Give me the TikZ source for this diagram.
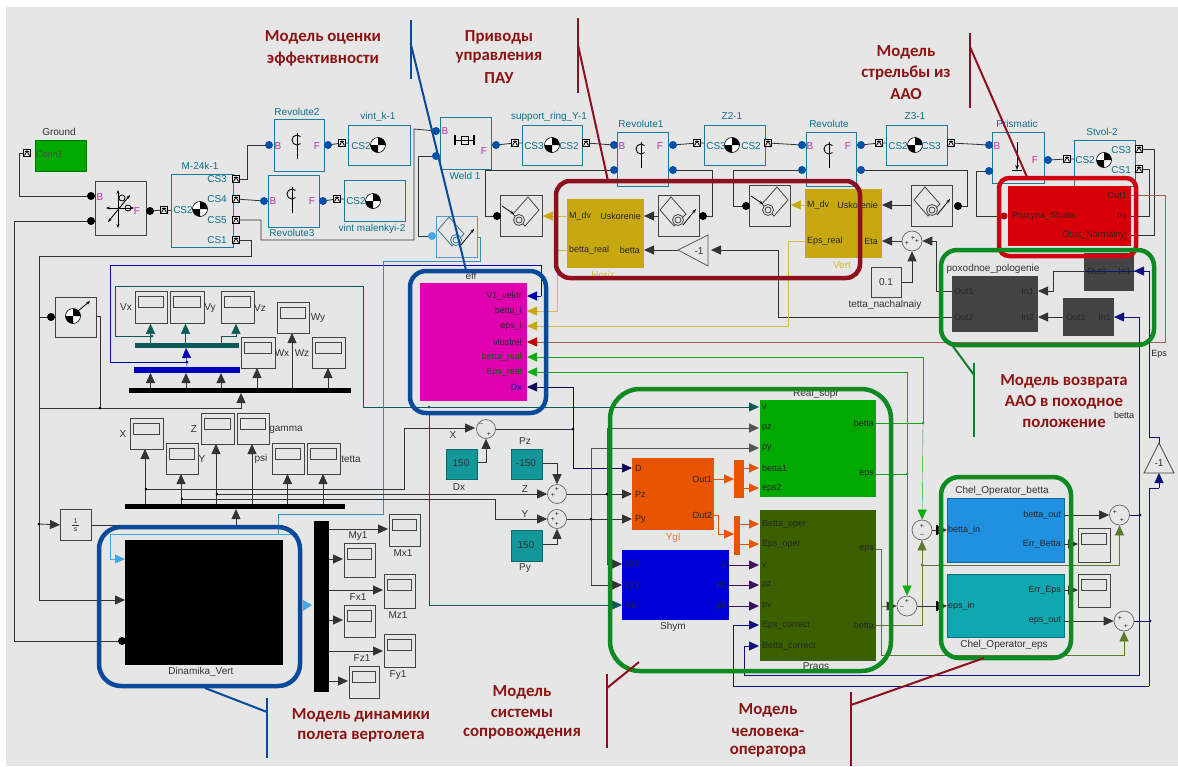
\documentclass[tikz,border=0pt]{standalone}
\usepackage{fontspec}
\setmainfont{Liberation Sans}
\newfontfamily\ttl{Carlito}
\usetikzlibrary{arrows.meta,calc}
\definecolor{bg}{HTML}{E6E6E6}
\definecolor{wire}{HTML}{333333}
\definecolor{wgray}{HTML}{555555}
\definecolor{tealt}{HTML}{0F6F8C}
\definecolor{tealb}{HTML}{1A7C9C}
\definecolor{mag}{HTML}{C030A0}
\definecolor{pdot}{HTML}{0050A8}
\definecolor{ltblue}{HTML}{45A5E5}
\definecolor{ylw}{HTML}{D0BC50}
\definecolor{gold}{HTML}{C8A810}
\definecolor{grn}{HTML}{10AA10}
\definecolor{olv}{HTML}{5C7A30}
\definecolor{navy1}{HTML}{101080}
\definecolor{dkteal}{HTML}{0C5A58}
\definecolor{brn}{HTML}{A06058}
\definecolor{frR}{HTML}{8E0F1E}
\definecolor{frG}{HTML}{0E8A22}
\definecolor{frB}{HTML}{0A4A9C}
\definecolor{frRR}{HTML}{D00010}
\definecolor{ttlc}{HTML}{8C1414}
\definecolor{dkgr}{HTML}{444444}
\definecolor{orng}{HTML}{E85400}
\definecolor{cteal}{HTML}{12979A}
\definecolor{cgrn}{HTML}{00A800}
\definecolor{cprg}{HTML}{3A6000}
\definecolor{cbet}{HTML}{2090E0}
\definecolor{ceps}{HTML}{10A8B0}
\definecolor{cmag}{HTML}{E000B0}
\definecolor{cred}{HTML}{D80008}
\definecolor{cblu}{HTML}{0000D8}
\definecolor{pur}{HTML}{401060}
\tikzset{
 plainb/.style={draw=dkgr,line width=.8pt,fill=bg},
 tealbk/.style={draw=tealb,line width=.8pt,fill=bg},
 lblue/.style={draw=ltblue!70!gray,line width=.8pt,fill=bg},
 solid1/.style={fill=#1,draw=none},
 solid2/.style={fill=#1,draw=#1!70!black,line width=.5pt},
 w/.style={draw=wire,line width=.8pt},
 ar/.style={-{Triangle[length=10pt,width=9pt]}},
 lbl/.style={font=\fontsize{10}{11}\selectfont,inner sep=0pt,text=#1},
 lbl/.default=black!80,
 prt/.style={font=\fontsize{9}{10}\selectfont,inner sep=0pt,text=#1},
 prt/.default=black!85,
 ttlt/.style={font=\ttl\bfseries\fontsize{16.8}{18}\selectfont,text=ttlc,inner sep=0pt},
 fr/.style={line width=4.5pt,draw=#1},
 note/.style={line width=2pt,draw=#1},
}
\newcounter{lc}
\newcommand{\blk}[6]{\pgfmathsetmacro\bw{#4-#2}\pgfmathsetmacro\bh{#5-#3}%
 \node[#6,minimum width=\bw pt,minimum height=\bh pt,anchor=north west,inner sep=0pt] (#1) at (#2,#3) {};}
\newcommand{\scp}[5]{\blk{#1}{#2}{#3}{#4}{#5}{plainb}%
 \draw[line width=.8pt,draw=dkgr] (#2+3.5,#3+5) rectangle (#4-3.5,#3+16);}
\newcommand{\lab}[4][lbl]{\stepcounter{lc}\node[#1] (t\thelc) at (#2,#3) {#4};}
\newcommand{\cg}[2]{\draw[black,line width=.6pt,fill=white] (#1,#2) circle[radius=7.5];
 \fill[black] (#1,#2) -- (#1,#2-7.5) arc[start angle=-90,end angle=0,radius=7.5] -- cycle;
 \fill[black] (#1,#2) -- (#1,#2+7.5) arc[start angle=90,end angle=180,radius=7.5] -- cycle;}
\newcommand{\conn}[2]{\draw[black,line width=.7pt,fill=bg] (#1-3.5,#2-3.5) rectangle (#1+3.5,#2+3.5);
 \draw[black,line width=.8pt] (#1-2.5,#2+2.5) -- (#1,#2-2) -- (#1+2.5,#2+2.5) (#1-2,#2-1.5) -- (#1+2,#2-1.5);}
\newcommand{\pd}[2]{\fill[pdot] (#1,#2) circle[radius=4];}
\newcommand{\bd}[2]{\fill[black] (#1,#2) circle[radius=4];}
\newcommand{\rv}[2]{\draw[black,line width=.9pt] (#1,#2) -- (#1,#2+26);
 \draw[black,line width=.9pt] (#1+3.5,#2+3.5) arc[start angle=-45,end angle=-315,radius=5];}
\newcommand{\mB}[3][dkgr]{\draw[#1,line width=.8pt] (#2-18,#3-6) -- (#2-7,#3-19) -- (#2+8,#3-2) -- (#2-4,#3+10) -- cycle;
 \draw[#1,line width=.8pt,fill=bg] (#2,#3+4) circle[radius=5.5]; \draw[#1,line width=.8pt] (#2,#3+4) circle[radius=3];
 \draw[black,line width=.8pt,-{Stealth[length=4pt]}] (#2+5,#3+9) -- (#2+18,#3-7);}
\newcommand{\mA}[2]{\draw[dkgr,line width=.8pt] (#1+18,#2-6) -- (#1+7,#2-19) -- (#1-8,#2-2) -- (#1+4,#2+10) -- cycle;
 \draw[dkgr,line width=.8pt,fill=bg] (#1-2,#2+4) circle[radius=5.5]; \draw[dkgr,line width=.8pt] (#1-2,#2+4) circle[radius=3];
 \draw[black,line width=.8pt,-{Stealth[length=4pt]}] (#1-19,#2-10) -- (#1-7,#2-2);}
\newcommand{\sm}[4]{\node[draw=gray!80!black,fill=bg,circle,minimum size=#4*2pt,inner sep=0pt,line width=.7pt] (#1) at (#2,#3) {};}
\begin{document}
\begin{tikzpicture}[x=1pt,y=-1pt]
\useasboundingbox (0,0) rectangle (1178,766);
\fill[white] (0,0) rectangle (1178,766);
\fill[bg] (6,7) rectangle (1178,766);
% ---- named ports
\foreach \n/\x/\y in {gC/27/153,jB/91/196,jL/91/221,jF/150/211,jC/164/210,cs3/236/179,cs4/236/199,cs5/236/220,cs1/236/240,
 r2B/269/145,r2F/328/145,r2C/342/143,r3B/264/201,r3F/323/201,r3C/337/199,wB/436/131,wL/436/156,wF/496/145,wC/515/143,srC/586/143,
 r1B/614/145,r1L/614/170,r1F/673/145,r1R/673/170,z2C/697/143,z2D/768/143,rvB/802/145,rvL/802/170,rvF/861/145,rvR/861/170,rvC/879/143,
 z3D/951/143,prB/989/145,prL/989/171,prF/1048/160,prC/1067/159,stA/1139/149,stB/1139/169,
 sD/51/317,sO/96/316,lsD/432/236,m1D/497/216,m2D/703/216,m3D/746/206,m4D/958/206,
 sxIn/475/428,
 effV/527/296,effB/527/311,effE/527/326,effU/527/342,effBr/527/357,effEr/527/372,effD/527/387,
 rsV/759/407,rsPz/759/428,rsPy/759/448,rsB1/759/468,rsE2/759/488,rsB/876/423,rsE/876/474,
 prBo/759/524,prEo/759/544,prv/759/565,prpz/759/585,prpv/759/606,prEc/759/625,prBc/759/646,prE/876/549,prBt/876/625,
 yD/632/468,yP/632/494,yY/632/519,yO1/714/479,yO2/714/515,
 shA/622/564,shB/622/585,shC/622/605,shR1/729/565,shR2/729/585,shR3/729/606,
 cbI/947/530,cbO/1064/515,cbE/1064/544,ceI/947/606,ceO/1064/621,ceE/1064/590,
 hM/567/216,hU/644/216,hBr/567/250,hB/644/250,vM/805/205,vU/882/205,vEr/805/241,vEt/882/241,
 pIn1/1038/291,pIn2/1038/317,pO1/952/291,pO2/952/317,s1I/1134/271,s1O/1084/271,s2I/1114/317,s2O/1063/317,
 rdO/1131/195,rdP/1131/216,rdN/1131/235,rdL/1006/216,
 g1R/711/250,g1L/678/250,g2T/1159/443,g2B/1159/473,
 bkT/125/559,bkM/125/600,bkD/122/641,
 mxO/329/529}{\coordinate (\n) at (\x,\y);}
% ---- blocks
\blk{ground}{35}{140}{86}{171}{solid2=cgrn}
\blk{joint}{95}{181}{146}{235}{plainb}
\blk{m24}{171}{174}{233}{247}{tealbk}
\blk{rev2}{274}{119}{324}{171}{tealbk}
\blk{vintk}{348}{125}{410}{165}{tealbk}
\blk{rev3}{268}{175}{319}{227}{tealbk}
\blk{vintm}{344}{180}{405}{221}{tealbk}
\blk{weld}{440}{117}{491}{169}{tealbk}
\blk{sring}{522}{125}{582}{165}{tealbk}
\blk{rev1}{617}{132}{668}{186}{tealbk}
\blk{z2}{704}{125}{765}{165}{tealbk}
\blk{revv}{806}{132}{856}{186}{tealbk}
\blk{z3}{886}{125}{947}{165}{tealbk}
\blk{prism}{992}{132}{1044}{183}{tealbk}
\blk{stvol}{1074}{140}{1135}{186}{tealbk}
\blk{sens}{55}{297}{96}{337}{plainb}
\blk{lsens}{436}{216}{477}{257}{lblue}
\blk{mot1}{500}{195}{542}{236}{plainb}
\blk{mot2}{658}{195}{699}{236}{plainb}
\blk{mot3}{749}{185}{790}{226}{plainb}
\blk{mot4}{911}{185}{952}{226}{plainb}
\blk{horiz}{567}{199}{644}{268}{solid1=gold}
\blk{vert}{805}{189}{882}{258}{solid1=gold}
\blk{c01}{871}{267}{901}{297}{plainb}
\blk{redb}{1008}{186}{1131}{246}{solid1=cred}
\blk{poh}{952}{276}{1038}{332}{solid1=dkgr}
\blk{sm1}{1084}{253}{1134}{291}{solid1=dkgr}
\blk{sm2}{1063}{298}{1114}{336}{solid1=dkgr}
\blk{eff}{420}{283}{527}{401}{solid1=cmag}
\blk{real}{760}{400}{876}{497}{solid1=cgrn}
\blk{prags}{760}{510}{876}{661}{solid1=cprg}
\blk{ygl}{632}{458}{714}{530}{solid1=orng}
\blk{shym}{622}{550}{729}{620}{solid1=cblu}
\blk{mx1}{734}{460}{744}{498}{solid1=orng}
\blk{mx2}{734}{516}{740}{555}{solid1=orng}
\blk{chb}{947}{498}{1064}{562}{solid2=cbet}
\blk{che}{947}{574}{1064}{637}{solid2=ceps}
\blk{dx}{446}{449}{477}{479}{solid2=cteal}
\blk{pz}{511}{449}{542}{479}{solid2=cteal}
\blk{py}{511}{530}{542}{561}{solid2=cteal}
\blk{integ}{60}{509}{91}{540}{plainb}
\blk{dyn}{125}{540}{283}{665}{solid1=black}
\blk{mux}{314}{521}{329}{692}{solid1=black}
\blk{bus1}{129}{388}{351}{393}{solid1=black}
\blk{bus2}{125}{504}{345}{509}{solid1=black}
\blk{busb}{134}{367}{240}{373}{solid1=blue!75!black}
\blk{bust}{135}{343}{239}{348}{solid1=dkteal}
\scp{svx}{135}{291}{167}{323}\scp{svy}{170}{291}{204}{323}\scp{svz}{221}{291}{254}{323}
\scp{swy}{277}{302}{309}{333}\scp{swx}{241}{337}{275}{368}\scp{swz}{312}{337}{345}{368}
\scp{sx}{130}{418}{163}{449}\scp{sy}{166}{443}{198}{474}\scp{sz}{201}{413}{234}{444}\scp{sg}{237}{413}{269}{444}
\scp{sp}{272}{443}{304}{474}\scp{st}{307}{443}{340}{474}
\scp{smx}{389}{514}{420}{546}\scp{smy}{344}{543}{375}{577}\scp{smz}{384}{574}{415}{608}\scp{sfx}{344}{605}{375}{637}
\scp{sfy}{384}{634}{415}{667}\scp{sfz}{349}{666}{379}{698}
\scp{sc1}{1078}{528}{1110}{562}\scp{sc2}{1078}{574}{1110}{607}
% summers
\sm{sX}{486}{429}{9.5}\sm{sZ}{557}{494}{9.5}\sm{sY}{557}{519}{9.5}
\sm{sV}{912}{241}{10}\sm{sB}{922}{530}{10}\sm{sE}{907}{606}{10}\sm{sO1}{1119.5}{515}{10}\sm{sO2}{1124}{621}{10}
% ---- wires
\draw[w] (gC) -- (19,153) |- (jB);
\draw[w] (jF) -- (jC);
\draw[w] (jC) -- (m24.west|-jC);
\draw[w] (cs3) -| (247,145) -- (r2B);
\draw[w] (cs4) -- (r3B);
\draw[w] (cs5) -| (261,240) -| (414,129) -- (wB);
\draw[w] (cs1) -| (251,256) -| (39,317) -- (sD);
\draw[w] (r2F) -- (r2C) -- (vintk.west|-r2C);
\draw[w] (r3F) -- (r3C) -- (vintm.west|-r3C);
\draw[w] (wF) -- (wC) -- (sring.west|-wC);
\draw[w] (srC) -- (r1B);
\draw[w] (r1F) -- (z2C) -- (z2.west|-z2C);
\draw[w] (z2D) -- (rvB);
\draw[w] (rvF) -- (rvC) -- (z3.west|-rvC);
\draw[w] (z3D) -- (prB);
\draw[w] (prF) -- (prC) -- (stvol.west|-prC);
\draw[w] (lsD) -| (418,156) -- (wL);
\draw[w] (jL) -| (14,641) -- (bkD);
\draw[w] (sO) -| (100,408);
\draw[w] (39,317) -- (39,600);
\draw[w,ar] (39,408) -| (241,393);
\fill[black] (100,408) circle[radius=1.5];
\fill[black] (39,524) circle[radius=1.5];
\draw[w,ar] (39,600) -- (bkM);
\draw[w,ar] (39,524) -- (integ.west);
\draw[w,ar] (integ.east) -| (236,509);
\draw[w] (m1D) -| (485,170) -- (r1L);
\draw[w] (m2D) -| (712,170) -- (r1R);
\draw[w] (m3D) -| (733,170) -- (rvL);
\draw[w] (m4D) -| (967,170) -- (rvR);
\draw[w,ar] (mot2.west|-hU) -- (hU);
\draw[w,ar] (mot4.west|-vU) -- (vU);
\draw[w,ar] (g1L) -- (hB);
\draw[w,ar] (sV) -- (vEt);
\draw[w,ar] (pO1) -| (936,241) -- (sV);
\draw[w,ar] (pO2) -| (778,250) -- (g1R);
\draw[w,ar] (c01.east) -| (sV);
\draw[w,ar] (s1O) -| (1053,291) -- (pIn1);
\draw[w,ar] (s2O) -- (pIn2);
\draw[w] (stA) -| (1154,235) -- (rdN);
\draw[w] (stB) -| (1149,216) -- (rdP);
\draw[w] (prL) -| (976,216) -- (rdL);
\draw[brn,line width=1pt] (rdO) -| (1165,342) -- (538,342);
\draw[red!75!black,{Triangle[length=10pt,width=9pt]}-] (effU) -- ++(11,0);
\draw[ylw,line width=.9pt] (hM) -- (552,216);
\draw[gold,ar] (552,216) -- (mot1.east|-hU);
\draw[ylw,line width=.9pt] (vM) -- (799,205);
\draw[gold,ar] (799,205) -- (mot3.east|-vU);
\draw[ylw,line width=.9pt] (hBr) -| (557,311) -- (538,311);
\draw[gold,ar] (538,311) -- (effB);
\draw[ylw,line width=.9pt] (vEr) -| (788,326) -- (538,326);
\draw[gold,ar] (538,326) -- (effE);
\draw[blue!70!black,line width=.9pt] (187,362) -| (110,265) -| (541,296);
\draw[blue!70!black,ar] (541,296) -- (effV);
\draw[blue!70!black,ar] (187,367) -- (186,348);
\fill[blue!70!black] (187,362) circle[radius=1.5];
\draw[dkteal,line width=.8pt] (610,407) -- (363.5,407) |- (115.5,286) |- (152,336);
\fill[dkteal] (152,336) circle[radius=1.5];
\draw[dkteal,ar] (150.5,343) -- (svx.south-|150.5,0);
\draw[dkteal,ar] (185.5,343) -- (svy.south-|185.5,0);
\draw[dkteal,ar] (221,343) |- (236,336) -- (svz.south-|236,0);
\draw[dkteal,ar] (610,407) -- (rsV);
\draw[dkteal,line width=.9pt] (429,413) |- (610,605);
\fill[dkteal] (429,407) circle[radius=1.5];
\draw[dkteal,ar] (610,605) -- (shC);
\draw[ltblue,line width=.8pt] (297,546) |- (110,534) |- (115,559);
\draw[ltblue,ar] (115,559) -- (bkT);
\draw[ltblue!70!dkteal,line width=.8pt] (278,534) |- (383,514) |- (480.5,261) |- (lsens.east);
\fill[ltblue] (303,600) -- (312,605) -- (303,611) -- cycle;
\foreach \xx in {150.5,186,221}{\draw[w,ar] (\xx,388) -- (\xx,373);}
\draw[w,ar] (257,388) -- (257,368);
\draw[w,ar] (292,388) -- (292,333);
\draw[w,ar] (328,388) -- (328,368);
\draw[w,ar] (145,504) -- (145,449);
\draw[w,ar] (181,504) -- (181,474);
\draw[w,ar] (216,504) -- (216,444);
\draw[w,ar] (252,504) -- (252,444);
\draw[w,ar] (287.5,504) -- (287.5,474);
\draw[w,ar] (323,504) -- (323,474);
\draw[w,ar] (146,489) -| (404.5,428) -- (sxIn);
\fill[black] (146,489) circle[radius=1.5];
\draw[w,ar] (217,494) -- (sZ);
\fill[black] (217,494) circle[radius=1.5];
\draw[w,ar] (182,499) -| (495,519) -- (sY);
\fill[black] (182,499) circle[radius=1.5];
\draw[w,ar] (dx.east|-0,462) -| (sX);
\draw[w,ar] (pz.east|-0,463) -| (sZ);
\draw[w,ar] (py.east|-0,544) -| (sY);
\foreach \yy/\xe in {529/388,559/343,590/383,620/343,651/383,681/348}{\draw[w,ar] (329,\yy) -- (\xe,\yy);}
% sum outputs
\draw[w] (sX) -- (573,429);
\draw[navy1!70!black,ar] (573,429) |- (effD);
\draw[navy1!70!black,ar] (573,429) |- (yD);
\fill[black] (573,429) circle[radius=1.5];
\draw[w,ar] (sZ) -- (yP);
\draw[wgray,line width=.9pt,ar] (607,494) |- (rsPz);
\draw[wgray,line width=.9pt] (607,494) -- (607,564);
\draw[w,ar] (607,564) -- (shA);
\fill[black] (607,494) circle[radius=1.5];
\draw[w,ar] (sY) -- (yY);
\draw[wgray,line width=.9pt,ar] (591,519) |- (rsPy);
\draw[wgray,line width=.9pt] (591,519) -- (591,585);
\draw[w,ar] (591,585) -- (shB);
\fill[black] (591,519) circle[radius=1.5];
\draw[orng,line width=.9pt,ar] (yO1) -- (mx1.west|-yO1);
\draw[orng,line width=.9pt,ar] (yO2) -| (718.5,534) -- (mx2.west|-0,534);
\draw[orng,ar] (mx1.east|-rsB1) -- (rsB1);
\draw[orng,ar] (mx1.east|-rsE2) -- (rsE2);
\draw[orng,ar] (mx2.east|-prBo) -- (prBo);
\draw[orng,ar] (mx2.east|-prEo) -- (prEo);
\draw[pur,ar] (shR1) -- (prv);
\draw[pur,ar] (shR2) -- (prpz);
\draw[pur,ar] (shR3) -- (prpv);
\draw[grn,line width=.9pt] (rsB) -| (923,357) -- (538,357);
\draw[grn,ar] (538,357) -- (effBr);
\draw[grn,ar] (923,423) -- (sB);
\fill[grn] (923,423) circle[radius=1.5];
\draw[grn,line width=.9pt] (rsE) -| (907,372) -- (538,372);
\draw[grn,ar] (538,372) -- (effEr);
\draw[grn,ar] (907,474) -- (sE);
\fill[grn] (907,474) circle[radius=1.5];
\draw[olv,line width=.8pt] (prE) -| (881,655) -| (1124,641);
\draw[olv,ar] (1124,641) -- (sO2);
\draw[olv,line width=.8pt] (881,606) -- (887,606);
\draw[w,ar] (887,606) -- (sE);
\draw[olv,ar] (prBt) -| (sB);
\draw[olv,ar] (922,565) -| (sO1);
\fill[olv] (922,565) circle[radius=1.5];
\draw[w,ar] (sB) -- (cbI);
\draw[w,ar] (sE) -- (ceI);
\draw[w,ar] (cbO) -- (sO1);
\draw[w,ar] (ceO) -- (sO2);
\draw[w,ar] (cbE) -- (sc1.west|-cbE);
\draw[w,ar] (ceE) -- (sc2.west|-ceE);
\draw[navy1,line width=.8pt] (sO1) -| (1140,515);
\draw[navy1,line width=.8pt] (sO2) -| (1150,621);
\draw[navy1,line width=.8pt] (1085,271) -- (1149,271) |- (1159,437) -- (g2T);
\draw[navy1,ar] (1149,271) -- (s1I);
\draw[navy1,line width=.8pt] (1139,317) |- (744,675) |- (750,646);
\draw[navy1,ar] (1139,317) -- (s2I);
\draw[navy1,ar] (750,646) -- (prBc);
\draw[navy1,line width=.8pt] (1149,686) |- (1159,488);
\draw[navy1,ar] (1159,488) -- (g2B);
\draw[navy1,line width=.8pt] (1149,686) -| (733.5,625) -- (750,625);
\draw[navy1,ar] (750,625) -- (prEc);
\fill[navy1] (1140,515) circle[radius=1.5];\fill[navy1] (1150,621) circle[radius=1.5];
% gains
\draw[gray!70!black,line width=.8pt,fill=bg] (g1L) -- (708,235) -- (708,266) -- cycle;
\draw[dkgr,line width=.8pt,fill=bg] (g2T) -- (1174,473) -- (1144,473) -- cycle;
% ---- port dots and connection glyphs
\foreach \a/\b in {269/145,328/145,264/201,323/201,436/131,436/156,496/145,614/145,614/170,673/145,673/170,802/145,802/170,861/145,861/170,989/145,989/171,1048/160}{\pd{\a}{\b}}
\foreach \a/\b in {91/196,91/221,150/211,51/317,497/216,703/216,746/206,958/206,122/641}{\bd{\a}{\b}}
\fill[ltblue] (lsD) circle[radius=4];
\fill[red!70!black] (1004,216) circle[radius=3.5];
\foreach \a/\b in {27/153,164/210,236/179,236/199,236/220,236/240,342/143,337/199,515/143,586/143,697/143,768/143,879/143,951/143,1067/159,1139/149,1139/169}{\conn{\a}{\b}}
\foreach \a/\b in {937/530,937/606}{\fill[black] (\a-1,\b-5) rectangle (\a+1,\b+5);}
% ---- icons
\cg{200}{209}\cg{378}{145}\cg{373}{201}\cg{552}{145}\cg{732}{145}\cg{915}{145}\cg{1104}{160}\cg{73}{316}
\draw[black,line width=.8pt,-{Stealth[length=4pt]}] (78,311) -- (90,301);
\rv{297}{133}\rv{292}{187}\rv{641}{142}\rv{829}{142}
\draw[black,line width=.9pt,-{Stealth[length=5pt]}] (1017,142) -- (1017,170);
\draw[black,line width=.9pt] (1012,170) -- (1022,170);
\draw[black,line width=1.8pt] (455,135) -- (455,145) (474,135) -- (474,145);
\draw[black,line width=.8pt] (455,140) -- (474,140); \draw[black,line width=.8pt] (461,136) rectangle (468,144);
\draw[black,line width=.9pt,{Stealth[length=4pt]}-{Stealth[length=4pt]}] (106,208) -- (134,208);
\draw[black,line width=.9pt,{Stealth[length=4pt]}-{Stealth[length=4pt]}] (118,190) -- (118,228);
\draw[black,line width=.9pt,{Stealth[length=4pt]}-{Stealth[length=4pt]}] (108,222) -- (130,195);
\draw[black,line width=.8pt] (122,198) circle[radius=3]; \draw[black,line width=.8pt] (128,208) circle[radius=3];
\mA{521}{216}\mB{678}{216}\mA{770}{206}\mB{932}{206}
\mB[ltblue!50!dkgr]{456}{236}
% ---- text
\lab{59}{132}{Ground}
\lab[prt=black!70,anchor=west]{36}{154}{Conn1}
\foreach \x/\y/\t in {200/166/M-24k-1,297/112/Revolute2,378/117/vint\_k-1,292/233/Revolute3,372/229/vint malenkyi-2,465/176/Weld 1,549/117/support\_ring\_Y-1,641/124/Revolute1,732/116/Z2-1,829/124/Revolute,915/116/Z3-1,1017/124/Prismatic,1102/132/Stvol-2}{\lab[lbl=tealt]{\x}{\y}{\t}}
\foreach \x/\y/\t in {227/179/CS3,227/199/CS4,227/220/CS5,227/240/CS1}{\lab[lbl=tealt,anchor=east]{\x}{\y}{\t}}
\foreach \x/\y/\t in {183/210/CS2,361/146/CS2,356/201/CS2,534/146/CS3,716/146/CS3,898/146/CS2,1085/160/CS2}{\lab[lbl=tealt,anchor=center]{\x}{\y}{\t}}
\foreach \x/\y/\t in {569/146/CS2,751/146/CS2,931/146/CS3}{\lab[lbl=tealt]{\x}{\y}{\t}}
\lab[lbl=tealt,anchor=east]{1131}{150}{CS3}\lab[lbl=tealt,anchor=east]{1131}{170}{CS1}
\foreach \x/\y/\t in {100/197/B,278/146/B,273/201/B,445/131/B,622/146/B,810/146/B,997/146/B,137/211/F,317/146/F,312/201/F,484/151/F,660/146/F,848/146/F,1035/160/F}{\lab[lbl=mag]{\x}{\y}{\t}}
\foreach \x/\y/\t in {126/307/Vx,210/308/Vy,260/308/Vz,318/318/Wy,282/353/Wx,302/353/Wz,123/434/X,202/459/Y,194/429/Z,286/430/gamma,261/459/psi,351/459/tetta,453/435/X,525/489/Z,525/514/Y,459/487/Dx,525/441/Pz,525/568/Py,
 403/553/Mx1,358/536/My1,398/615/Mz1,358/597/Fx1,398/675/Fy1,362/658/Fz1,201/672/Dinamika\_Vert,885/305/tetta\_nachalnaiy,993/269/poxodnoe\_pologenie,471/276/eff,816/394/Real\_sopr,816/667/Prags,1002/491/Chel\_Operator\_betta,1004/645/Chel\_Operator\_eps,673/627/Shym}{\lab{\x}{\y}{\t}}
\lab[prt]{1159}{354}{Eps}\lab[prt]{1124}{415}{betta}
\lab[lbl=gold!80!white]{842}{265}{Vert}\lab[lbl=gold!80!white]{603}{275}{Horiz}\lab[lbl=orng!80!white]{673}{538}{Ygl}
\lab{461}{463}{150}\lab{526}{463}{-150}\lab{526}{545}{150}\lab{886}{282}{0.1}\lab{75.5}{525}{\shortstack{\scriptsize 1\\[-1pt]\rule{7pt}{.4pt}\\[-1pt]\scriptsize s}}
\lab{699}{251}{-1}\lab{1159}{463}{-1}
% port labels
\foreach \x/\y/\t in {569/216/M\_dv,569/250/betta\_real,807/205/M\_dv,807/241/Eps\_real,954/291/Out1,954/317/Out2,1087/271/Out1,1066/317/Out1,1012/216/Pruzyna\_Stvola,
 762/407/v,762/428/pz,762/448/py,762/468/betta1,762/488/eps2,762/524/Betta\_oper,762/544/Eps\_oper,762/565/v,762/585/pz,762/606/pv,762/625/Eps\_correct,762/646/Betta\_correct,
 635/468/D,635/494/Pz,635/519/Py,625/564/pz1,625/585/py1,625/605/V6,948/530/betta\_in,948/606/eps\_in}{\lab[prt,anchor=west]{\x}{\y}{\t}}
\foreach \x/\y/\t in {641/216/Uskorenie,640/250/betta,878/205/Uskorenie,878/241/Eta,1034/291/In1,1034/317/In2,1131/271/In1,1111/317/In1,1127/195/Out1,1127/216/Pit,1127/235/Obst\_Normalnyj,
 874/423/betta,874/474/eps,712/479/Out1,712/515/Out2,727/565/V,727/585/p2,727/606/p3,874/549/eps,874/625/betta,1061/515/betta\_out,1061/544/Err\_Betta,1061/590/Err\_Eps,1061/621/eps\_out,
 522/296/V1\_vektr,522/311/betta\_i,522/326/eps\_i,522/342/vlustrel}{\lab[prt,anchor=east]{\x}{\y}{\t}}
\lab[prt=green!40!black,anchor=east]{522}{357}{betta\_real}\lab[prt=green!40!black,anchor=east]{522}{372}{Eps\_real}\lab[prt=blue!70!black,anchor=east]{522}{387}{Dx}
% sum signs
\foreach \x/\y/\t in {481/424/--,489/434/+,557/489/+,553/495/+,557/514/+,553/519/+,557/524/+,907/243/+,913/238/+,917/241/+,922/526/+,922/535/--,907/601/+,902/607/--,1115/512/+,1122/520/+,1120/618/+,1126/626/+}{\lab[prt]{\x}{\y}{\scriptsize\t}}
% ---- highlight frames
\draw[fr=frR,rounded corners=14pt] (556,181) rectangle (860,278);
\draw[fr=frRR,rounded corners=10pt] (999,178) rectangle (1136,256);
\draw[fr=frG,rounded corners=16pt] (941,250) rectangle (1154,345);
\draw[fr=frB,rounded corners=16pt] (410,271) rectangle (546,413);
\draw[fr=frB,rounded corners=22pt] (99,527) rectangle (300,686);
\draw[fr=frG,rounded corners=30pt] (610,389) rectangle (891,671);
\draw[fr=frG,rounded corners=18pt] (941,477) rectangle (1071,658);
% ---- annotation leaders
\draw[note=frB] (410.6,20) -- (410.6,79);\draw[note=frB] (410.6,43) -- (466,270);
\draw[note=frR] (578,18) -- (578,93);\draw[note=frR] (578,45) -- (608,181);
\draw[note=frR] (970,33) -- (970,108);\draw[note=frR] (970,47) -- (1027,177);
\draw[note=frG!80!dkteal] (974,363) -- (974,437);\draw[note=frG!80!dkteal] (952,345) -- (974,375);
\draw[note=frB] (267,698) -- (267,758);\draw[note=frB] (205,688) -- (267,712);
\draw[note=frR] (607,674) -- (607,748);\draw[note=frR] (607,688) -- (639,662);
\draw[note=frR] (851,692) -- (851,766);\draw[note=frR] (851,705) -- (984,658);
% ---- titles
\foreach \x/\y/\t in {323/37/Модель оценки,323/59/эффективности,499/37/Приводы,499/58/управления,499/78/ПАУ,906/52/Модель,906/73/стрельбы из,906/94/ААО,
 1064/381/Модель возврата,1064/402/ААО в походное,1064/423/положение,361/715/Модель динамики,361/737/полета вертолета,522/692/Модель,522/713/системы,522/734/сопровождения,768/710/Модель,768/732/человека-,768/752/оператора}{\lab[ttlt]{\x}{\y}{\t}}
\end{tikzpicture}
\end{document}
